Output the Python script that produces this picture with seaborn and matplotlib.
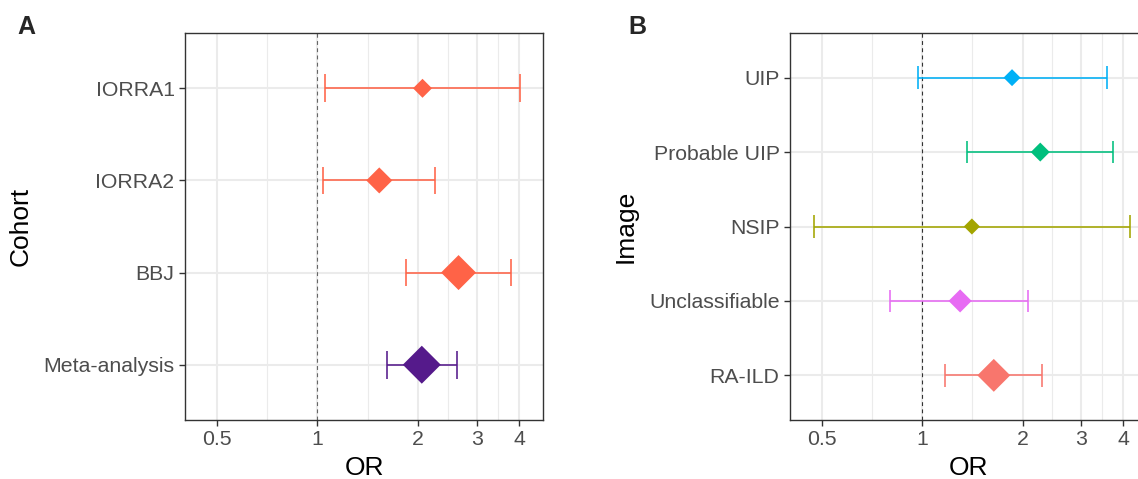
import numpy as np
import pandas as pd
import matplotlib
matplotlib.use("Agg")
import matplotlib.pyplot as plt
import seaborn as sns

# ---------------- data ----------------
cohorts = ["IORRA1", "IORRA2", "BBJ", "Meta-analysis"]
cohort_or = [2.06, 1.53, 2.64, 2.05]
cohort_lo = [1.05, 1.04, 1.84, 1.61]
cohort_hi = [4.02, 2.25, 3.78, 2.61]
cohort_weight = [0.25, 0.47, 0.85, 1.00]

images = ["UIP", "Probable UIP", "NSIP", "Unclassifiable", "RA-ILD"]
image_or = [1.86, 2.26, 1.41, 1.30, 1.64]
image_lo = [0.97, 1.36, 0.476, 0.80, 1.17]
image_hi = [3.57, 3.73, 4.19, 2.07, 2.29]
image_weight = [0.20, 0.25, 0.18, 0.37, 0.75]

x_ticks = [0.5, 1, 2, 3, 4]
x_ticklabels = ["0.5", "1", "2", "3", "4"]

# ---------------- styles ----------------
cohort_colors = {"IORRA1": "#FF6347", "IORRA2": "#FF6347", "BBJ": "#FF6347",
                 "Meta-analysis": "#551A8B"}
image_colors = {"UIP": "#00B0F6", "Probable UIP": "#00BF7D", "NSIP": "#A3A500",
                "Unclassifiable": "#E76BF3", "RA-ILD": "#F8766D"}

sns.set_theme(style="white")
plt.rcParams["font.family"] = ["Liberation Sans", "DejaVu Sans"]

W, H = 1138, 479
fig = plt.figure(figsize=(W / 100, H / 100), dpi=100)

ax_a = fig.add_axes([185 / W, (H - 420) / H, 358 / W, 387 / H])
ax_b = fig.add_axes([790 / W, (H - 420) / H, 357 / W, 387 / H])

XLIM = (0.402, 4.72)
SMAX = 374


def forest(ax, labels, ors, los, his, weights, colors, ylabel, vline_color):
    n = len(labels)
    df = pd.DataFrame({"label": labels, "OR": ors, "lo": los, "hi": his,
                       "weight": weights, "pos": np.arange(n)})
    ax.set_xscale("log")
    ax.set_xlim(*XLIM)
    ax.set_ylim(n - 1 + 0.6, -0.6)

    # grid
    minor = [np.sqrt(a * b) for a, b in zip(x_ticks[:-1], x_ticks[1:])]
    for m in minor:
        ax.axvline(m, color="#EBEBEB", lw=0.8, zorder=0)
    for t in x_ticks:
        ax.axvline(t, color="#EBEBEB", lw=1.5, zorder=0)
    for p in df["pos"]:
        ax.axhline(p, color="#EBEBEB", lw=1.5, zorder=0)

    ax.axvline(1, color=vline_color, lw=0.8, ls=(0, (3.5, 3)), zorder=1)

    for _, r in df.iterrows():
        ax.errorbar(r["OR"], r["pos"], xerr=[[r["OR"] - r["lo"]], [r["hi"] - r["OR"]]],
                    fmt="none", ecolor=colors[r["label"]], elinewidth=1.15,
                    capsize=0, zorder=2)
    cap = 0.15
    ax.vlines(df["lo"], df["pos"] - cap, df["pos"] + cap,
              colors=[colors[l] for l in df["label"]], lw=1.15, zorder=2)
    ax.vlines(df["hi"], df["pos"] - cap, df["pos"] + cap,
              colors=[colors[l] for l in df["label"]], lw=1.15, zorder=2)

    sns.scatterplot(data=df, x="OR", y="pos", hue="label", palette=colors,
                    size="weight", sizes=(0, SMAX), size_norm=(0, 1),
                    marker="D", linewidth=0, legend=False, ax=ax, zorder=3)

    ax.set_xticks(x_ticks)
    ax.set_xticklabels(x_ticklabels)
    ax.xaxis.set_minor_locator(matplotlib.ticker.NullLocator())
    ax.set_yticks(df["pos"])
    ax.set_yticklabels(labels)
    ax.tick_params(axis="both", which="major", length=4.5, width=1.0,
                   color="#333333", labelsize=15.3, labelcolor="#4D4D4D",
                   pad=3, left=True, bottom=True)
    ax.set_xlabel("OR", fontsize=19, color="black", labelpad=5)
    ax.set_ylabel(ylabel, fontsize=19, color="black", labelpad=8)
    ax.grid(False)
    for s in ax.spines.values():
        s.set_color("#333333")
        s.set_linewidth(1.0)
        s.set_visible(True)


forest(ax_a, cohorts, cohort_or, cohort_lo, cohort_hi, cohort_weight,
       cohort_colors, "Cohort", "#666666")
forest(ax_b, images, image_or, image_lo, image_hi, image_weight,
       image_colors, "Image", "#333333")

fig.text(17 / W, 1 - 34 / H, "A", fontsize=18, fontweight="bold", ha="left", va="baseline")
fig.text(628 / W, 1 - 34 / H, "B", fontsize=18, fontweight="bold", ha="left", va="baseline")

fig.savefig("out.png", dpi=100)
